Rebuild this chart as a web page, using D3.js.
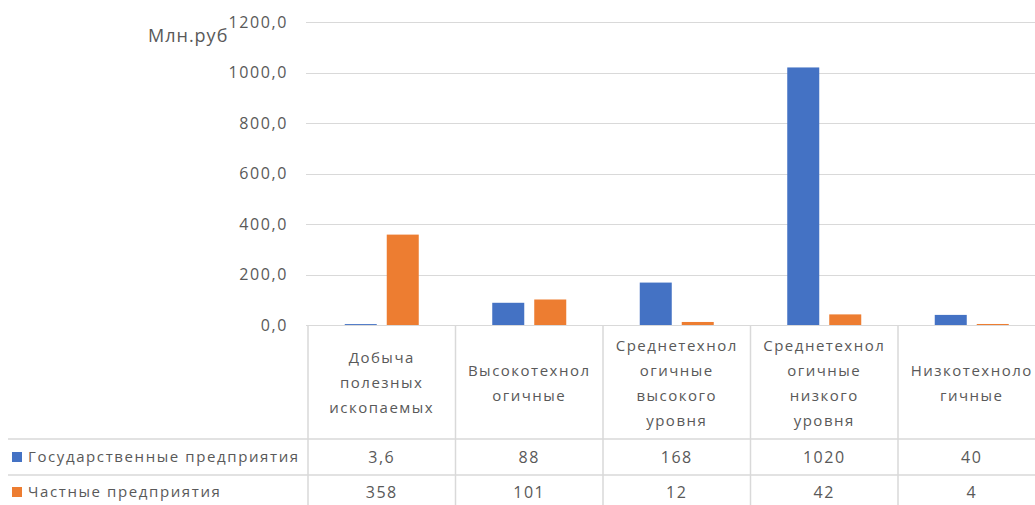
<!DOCTYPE html>
<html>
<head>
<meta charset="utf-8">
<script src="https://cdn.jsdelivr.net/npm/d3@7"></script>
<style>
  body { margin: 0; background: #fff; }
  text { font-family: "Open Sans", sans-serif; fill: #595959; }
</style>
</head>
<body>
<script>
const width = 1035;
const height = 505;

// data
const categories = [
    ["Добыча", "полезных", "ископаемых"],
    ["Высокотехнол", "огичные"],
    ["Среднетехнол", "огичные", "высокого", "уровня"],
    ["Среднетехнол", "огичные", "низкого", "уровня"],
    ["Низкотехноло", "гичные"]
];
const seriesNames = ["Государственные предприятия", "Частные предприятия"];
const stateValues = [3.6, 88, 168, 1020, 40];
const privateValues = [358, 101, 12, 42, 4];
const valueLabels = [
    ["3,6", "88", "168", "1020", "40"],
    ["358", "101", "12", "42", "4"]
];
const yTicks = [0, 200, 400, 600, 800, 1000, 1200];
const yTitle = "Млн.руб";

const colors = ["#4472C4", "#ED7D31"];
const gridColor = "#d9d9d9";

const plot = { left: 308, right: 1045.5, top: 22, bottom: 325 };
const tableRows = [325, 439, 475, 505];

const catKeys = categories.map((c, i) => i);
const series = [stateValues, privateValues];

const svg = d3.select("body")
    .append("svg")
    .attr("width", width)
    .attr("height", height);

const x = d3.scaleBand().domain(catKeys).range([plot.left, plot.right]).padding(0);
const xInner = d3.scaleBand().domain([0, 1]).range([-37, 37]).paddingInner(0.238);
const y = d3.scaleLinear().domain([0, 1200]).range([plot.bottom, plot.top]);

const ru = d3.formatLocale({ decimal: ",", thousands: "", grouping: [3], currency: ["", ""] });

// gridlines
svg.append("g")
    .selectAll("line")
    .data(yTicks)
    .join("line")
    .attr("x1", 306)
    .attr("x2", width)
    .attr("y1", d => Math.round(y(d)) + 0.5)
    .attr("y2", d => Math.round(y(d)) + 0.5)
    .attr("stroke", gridColor)
    .attr("stroke-width", 1);

// y axis labels
const yAxis = svg.append("g")
    .attr("transform", "translate(288,0)")
    .call(d3.axisLeft(y).tickValues(yTicks).tickSize(0).tickPadding(0).tickFormat(ru.format(".1f")));
yAxis.select(".domain").remove();
yAxis.selectAll("text")
    .attr("fill", "#595959")
    .style("font-family", "'Open Sans', sans-serif")
    .style("font-size", "16px")
    .style("letter-spacing", "1.6px");

svg.append("text")
    .attr("x", 148)
    .attr("y", 42)
    .style("font-size", "18px")
    .style("letter-spacing", "1px")
    .text(yTitle);

// bars
series.forEach((vals, s) => {
    svg.append("g")
        .selectAll("rect")
        .data(vals)
        .join("rect")
        .attr("x", (d, i) => x(i) + x.bandwidth() / 2 + xInner(s))
        .attr("y", d => y(d))
        .attr("width", xInner.bandwidth())
        .attr("height", d => y(0) - y(d))
        .attr("fill", colors[s]);
});

// data table lines
const table = svg.append("g").attr("stroke", gridColor).attr("stroke-width", 1.5);
table.selectAll(".hline")
    .data(tableRows.slice(1, 3))
    .join("line")
    .attr("class", "hline")
    .attr("x1", 8)
    .attr("x2", width)
    .attr("y1", d => d)
    .attr("y2", d => d);
table.selectAll(".vline")
    .data(catKeys)
    .join("line")
    .attr("class", "vline")
    .attr("x1", d => x(d))
    .attr("x2", d => x(d))
    .attr("y1", plot.bottom)
    .attr("y2", height);

// category headers
const headers = svg.append("g")
    .selectAll("text")
    .data(categories)
    .join("text")
    .attr("text-anchor", "middle")
    .style("font-size", "15px")
    .style("letter-spacing", "1.5px");
headers.each(function (lines, i) {
    const cx = x(i) + x.bandwidth() / 2;
    const lh = 25;
    const y0 = 383 - (lines.length - 1) * lh / 2;
    d3.select(this).selectAll("tspan")
        .data(lines)
        .join("tspan")
        .attr("x", cx)
        .attr("y", (d, j) => y0 + j * lh)
        .attr("dy", "0.35em")
        .text(d => d);
});

// value rows
const rowCenters = [457, 492];
valueLabels.forEach((row, s) => {
    svg.append("g")
        .selectAll("text")
        .data(row)
        .join("text")
        .attr("x", (d, i) => x(i) + x.bandwidth() / 2)
        .attr("y", rowCenters[s])
        .attr("dy", "0.35em")
        .attr("text-anchor", "middle")
        .style("font-size", "16px")
        .style("letter-spacing", "1.5px")
        .text(d => d);
});

// legend keys in table
const legend = svg.append("g")
    .selectAll("g")
    .data(seriesNames)
    .join("g")
    .attr("transform", (d, i) => `translate(0,${rowCenters[i]})`);
legend.append("rect")
    .attr("x", 12)
    .attr("y", -5)
    .attr("width", 10)
    .attr("height", 10)
    .attr("fill", (d, i) => colors[i]);
legend.append("text")
    .attr("x", 28)
    .attr("dy", "0.35em")
    .style("font-size", "15px")
    .style("letter-spacing", "1.6px")
    .text(d => d);
</script>
</body>
</html>
